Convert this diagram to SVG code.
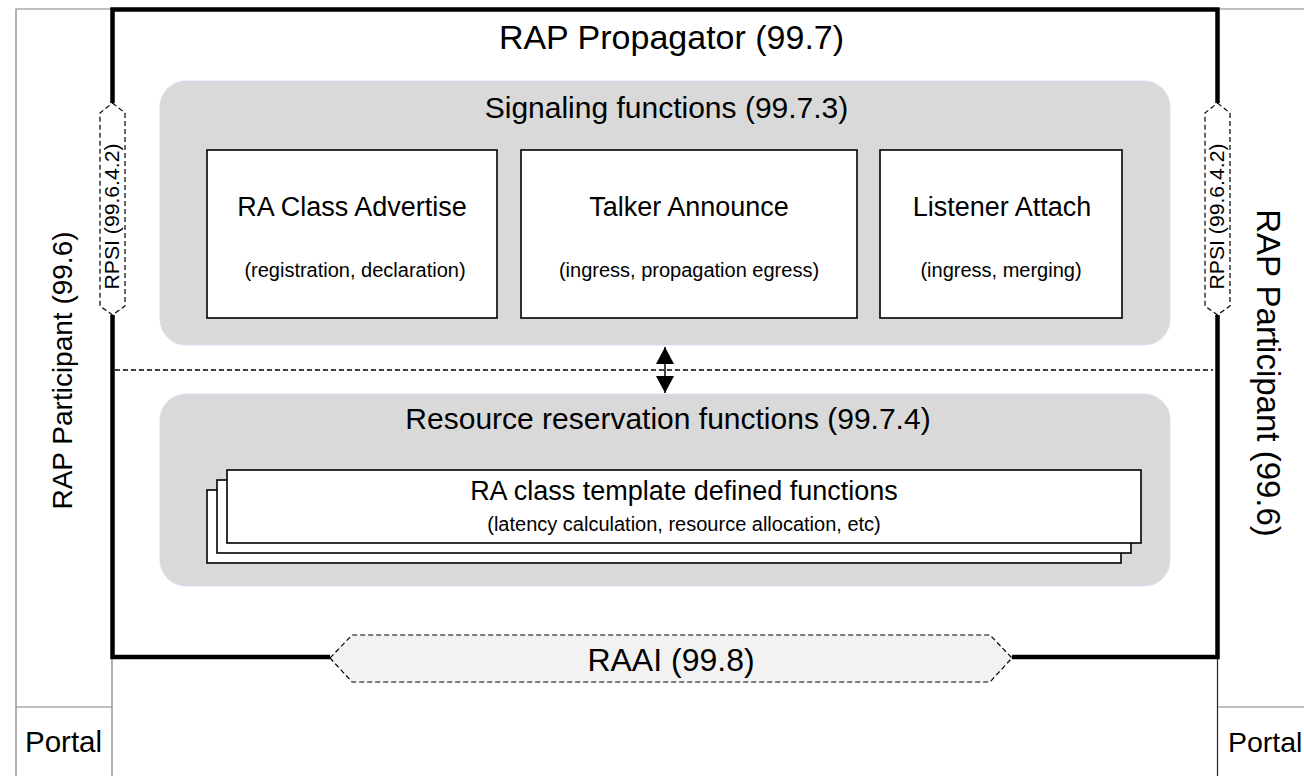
<svg xmlns="http://www.w3.org/2000/svg" width="1304" height="776" viewBox="0 0 1304 776">
  <style>
    text { font-family: "Liberation Sans", Arial, sans-serif; fill: #000; }
    .mid { text-anchor: middle; }
    .thin { fill: none; stroke: #808080; stroke-width: 1.2; }
    .frame { fill: none; stroke: #000; stroke-width: 4.5; stroke-linejoin: miter; }
    .area { fill: #d9d9d9; stroke: #d6dff0; stroke-width: 1; }
    .box { fill: #fff; stroke: #000; stroke-width: 1.6; }
    .iface { fill: #f2f2f2; stroke: #000; stroke-width: 1.2; stroke-dasharray: 5 3; }
    .iface-w { fill: #fff; stroke: #000; stroke-width: 1.2; stroke-dasharray: 5 3; }
  </style>
  <defs>
    <marker id="tip" viewBox="0 0 17 18" refX="17" refY="9" markerWidth="17" markerHeight="18" markerUnits="userSpaceOnUse" orient="auto">
      <path d="M0,0 L17,9 L0,18 z" fill="#000"/>
    </marker>
  </defs>
  <rect width="1304" height="776" fill="#fff"/>

  <!-- participant columns and portal rows -->
  <g id="participant-left">
    <path class="thin" d="M16,776 V9 H112"/>
    <path class="thin" d="M16,707 H112 M112,658 V776"/>
    <text transform="translate(72,370.5) rotate(-90)" class="mid" font-size="28">RAP Participant (99.6)</text>
  </g>
  <g id="portal-left">
    <text x="25" y="752" font-size="29.5">Portal</text>
  </g>
  <g id="participant-right">
    <path class="thin" d="M1220,9 H1304"/>
    <path class="thin" d="M1217,707 H1304"/>
    <path fill="none" stroke="#222" stroke-width="1.2" d="M1217.5,658 V776"/>
    <text transform="translate(1257,373) rotate(90)" class="mid" font-size="33">RAP Participant (99.6)</text>
  </g>
  <g id="portal-right">
    <text x="1228" y="752" font-size="28.5">Portal</text>
  </g>

  <!-- propagator frame -->
  <g id="propagator">
    <path class="frame" d="M112.5,103 V9.5 H1217.5 V103"/>
    <path class="frame" d="M112.5,315 V657 H330 M1012,657 H1217.5 V315"/>
    <text x="671.5" y="49" class="mid" font-size="34">RAP Propagator (99.7)</text>
  </g>

  <!-- RPSI interfaces -->
  <g id="rpsi-left">
    <path class="iface-w" d="M112.5,103 L125,113 V306 L112.5,315 L100,306 V113 Z"/>
    <text transform="translate(119,216.5) rotate(-90)" class="mid" font-size="20" textLength="146" lengthAdjust="spacingAndGlyphs">RPSI (99.6.4.2)</text>
  </g>
  <g id="rpsi-right">
    <path class="iface-w" d="M1217.5,103 L1230,113 V306 L1217.5,315 L1205,306 V113 Z"/>
    <text transform="translate(1224,216.5) rotate(-90)" class="mid" font-size="20" textLength="146" lengthAdjust="spacingAndGlyphs">RPSI (99.6.4.2)</text>
  </g>

  <!-- RAAI interface -->
  <g id="raai">
    <path class="iface" d="M330,658 L352,635 H990 L1012,658 L990,682 H352 Z"/>
    <text x="671" y="671" class="mid" font-size="32">RAAI (99.8)</text>
  </g>

  <!-- signaling functions -->
  <g id="signaling">
    <rect class="area" x="160" y="81" width="1010" height="264" rx="26"/>
    <text x="666.5" y="118" class="mid" font-size="30">Signaling functions (99.7.3)</text>
  </g>
  <g id="ra-class-advertise">
    <rect class="box" x="207" y="150" width="290" height="168"/>
    <text x="352" y="216" class="mid" font-size="27">RA Class Advertise</text>
    <text x="355" y="277" class="mid" font-size="20">(registration, declaration)</text>
  </g>
  <g id="talker-announce">
    <rect class="box" x="521" y="150" width="336" height="168"/>
    <text x="689" y="216" class="mid" font-size="27">Talker Announce</text>
    <text x="689" y="277" class="mid" font-size="20">(ingress, propagation egress)</text>
  </g>
  <g id="listener-attach">
    <rect class="box" x="880" y="150" width="242" height="168"/>
    <text x="1002" y="216" class="mid" font-size="27">Listener Attach</text>
    <text x="1001" y="277" class="mid" font-size="20">(ingress, merging)</text>
  </g>

  <!-- resource reservation functions -->
  <g id="resource-reservation">
    <rect class="area" x="160" y="394" width="1010" height="192" rx="26"/>
    <text x="668" y="429" class="mid" font-size="30">Resource reservation functions (99.7.4)</text>
  </g>
  <g id="ra-class-template">
    <rect class="box" x="207" y="490" width="914" height="73"/>
    <rect class="box" x="217" y="480" width="914" height="73"/>
    <rect class="box" x="227" y="470" width="914" height="73"/>
    <text x="684" y="500" class="mid" font-size="27">RA class template defined functions</text>
    <text x="684" y="531" class="mid" font-size="20">(latency calculation, resource allocation, etc)</text>
  </g>

  <!-- connectors -->
  <g id="connectors">
    <line x1="115" y1="370" x2="1213" y2="370" stroke="#000" stroke-width="1.3" stroke-dasharray="5 3"/>
    <line x1="665" y1="364" x2="665" y2="347" stroke="#000" stroke-width="1.5" marker-end="url(#tip)"/>
    <line x1="665" y1="376" x2="665" y2="393" stroke="#000" stroke-width="1.5" marker-end="url(#tip)"/>
    <line x1="665" y1="362" x2="665" y2="378" stroke="#000" stroke-width="1.5"/>
  </g>
</svg>
